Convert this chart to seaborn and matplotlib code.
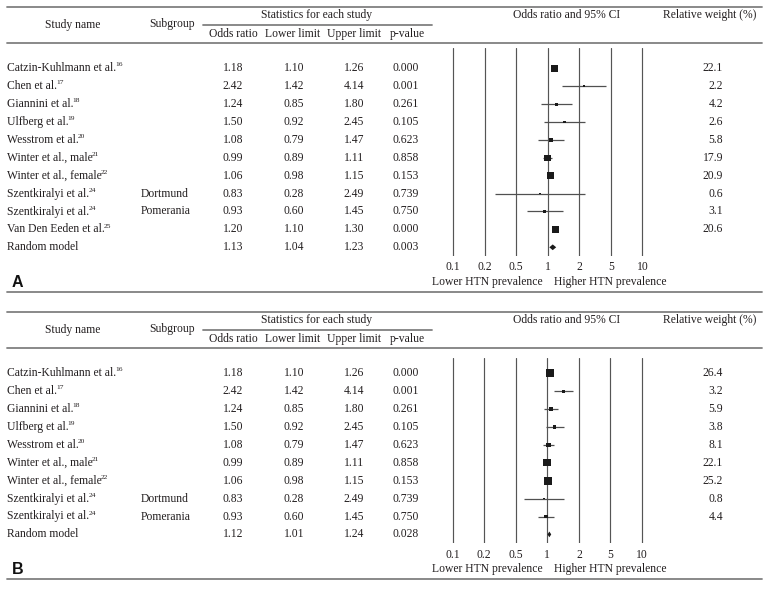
import numpy as np
import pandas as pd
import matplotlib
matplotlib.use("Agg")
import matplotlib.pyplot as plt
import seaborn as sns

sns.set_style("white")
plt.rcParams["font.family"] = ["Liberation Serif", "DejaVu Serif"]

# ---------------- data ----------------
study_names = ["Catzin-Kuhlmann et al.", "Chen et al.", "Giannini et al.", "Ulfberg et al.",
               "Wesstrom et al.", "Winter et al., male", "Winter et al., female",
               "Szentkiralyi et al.", "Szentkiralyi et al.", "Van Den Eeden et al."]
study_refs = ["16", "17", "18", "19", "20", "21", "22", "24", "24", "25"]
subgroups = ["", "", "", "", "", "", "", "Dortmund", "Pomerania", ""]
odds_ratio = [1.18, 2.42, 1.24, 1.50, 1.08, 0.99, 1.06, 0.83, 0.93, 1.20]
lower_limit = [1.10, 1.42, 0.85, 0.92, 0.79, 0.89, 0.98, 0.28, 0.60, 1.10]
upper_limit = [1.26, 4.14, 1.80, 2.45, 1.47, 1.11, 1.15, 2.49, 1.45, 1.30]
p_values = ["0.000", "0.001", "0.261", "0.105", "0.623", "0.858", "0.153", "0.739", "0.750", "0.000"]

weights_A = [22.1, 2.2, 4.2, 2.6, 5.8, 17.9, 20.9, 0.6, 3.1, 20.6]
random_A = (1.13, 1.04, 1.23, "0.003")
n_studies_A = 10

weights_B = [26.4, 3.2, 5.9, 3.8, 8.1, 22.1, 25.2, 0.8, 4.4]
random_B = (1.12, 1.01, 1.24, "0.028")
n_studies_B = 9

tick_labels = ["0.1", "0.2", "0.5", "1", "2", "5", "10"]

# ---------------- layout ----------------
W, H = 766, 589
TXT = "#231f20"
RULE = "#808080"
FS = 8.4

fig = plt.figure(figsize=(W / 100, H / 100), dpi=100)
main = fig.add_axes([0, 0, 1, 1])
main.set_xlim(0, W)
main.set_ylim(H, 0)
main.axis("off")


def px_rect(x0, y0, x1, y1):
    return [x0 / W, 1 - y1 / H, (x1 - x0) / W, (y1 - y0) / H]


def draw_panel(off, label, n, weights, rnd, one_px, dec_per_tick, grid_top, grid_bot_extra):
    sp = 17.9
    first = 68.3 + off
    # rules
    main.plot([7, 762], [7 + off, 7 + off], color=RULE, lw=1.3)
    main.plot([203, 432], [24.5 + off, 24.5 + off], color=RULE, lw=1.3)
    main.plot([7, 762], [43 + off, 43 + off], color=RULE, lw=1.3)
    # headers
    kw = dict(color=TXT, fontsize=FS, va="center", ha="center")
    main.text(73, 25 + off, "Study name", **kw)
    main.text(172, 24 + off, "Subgroup", **kw)
    main.text(317, 15 + off, "Statistics for each study", **kw)
    main.text(233, 34 + off, "Odds ratio", **kw)
    main.text(293, 34 + off, "Lower limit", **kw)
    main.text(354, 34 + off, "Upper limit", **kw)
    main.text(407, 34 + off, "p-value", **kw)
    main.text(567, 15 + off, "Odds ratio and 95% CI", **kw)
    main.text(710, 15 + off, "Relative weight (%)", **kw)

    # table rows
    ors = odds_ratio[:n] + [rnd[0]]
    los = lower_limit[:n] + [rnd[1]]
    his = upper_limit[:n] + [rnd[2]]
    ps = p_values[:n] + [rnd[3]]
    for i in range(n + 1):
        y = first + i * sp
        if i < n:
            t = main.text(7, y, study_names[i], color=TXT, fontsize=FS, va="center", ha="left")
            main.annotate(study_refs[i], xy=(1, 0.78), xycoords=t, xytext=(-0.6, 0),
                          textcoords="offset points", color=TXT, fontsize=5.4,
                          va="center", ha="left")
            main.text(141, y, subgroups[i], color=TXT, fontsize=FS, va="center", ha="left")
            main.text(723, y, f"{weights[i]:.1f}", color=TXT, fontsize=FS, va="center", ha="right")
        else:
            main.text(7, y, "Random model", color=TXT, fontsize=FS, va="center", ha="left")
        main.text(233, y, f"{ors[i]:.2f}", **kw)
        main.text(294, y, f"{los[i]:.2f}", **kw)
        main.text(354, y, f"{his[i]:.2f}", **kw)
        main.text(406, y, ps[i], **kw)

    rnd_y = first + n * sp
    grid_bot = rnd_y + grid_bot_extra
    main.text(542.7, rnd_y + 35, "Lower HTN prevalence", color=TXT, fontsize=FS, va="center", ha="right")
    main.text(554.3, rnd_y + 35, "Higher HTN prevalence", color=TXT, fontsize=FS, va="center", ha="left")
    main.text(12, rnd_y + 35, label, color="#111111", fontsize=11.5, fontweight="bold",
              family="Liberation Sans", va="center", ha="left")
    main.plot([7, 762], [rnd_y + 44.5, rnd_y + 44.5], color=RULE, lw=1.3)

    # forest axes
    x0, x1 = 440, 660
    ax = fig.add_axes(px_rect(x0, grid_top + off, x1, grid_bot))
    ax.set_xscale("log")
    dec_px = 31.55 / dec_per_tick
    ax.set_xlim(10 ** ((x0 - one_px) / dec_px), 10 ** ((x1 - one_px) / dec_px))
    ax.set_ylim((grid_bot - first) / sp, (grid_top + off - first) / sp)
    ticks = [10 ** (k * dec_per_tick) for k in range(-3, 4)]
    for tk in ticks:
        ax.axvline(tk, color="#555555", lw=0.85, zorder=1)
    ax.set_xticks(ticks)
    ax.set_xticklabels(tick_labels)
    ax.xaxis.set_minor_locator(matplotlib.ticker.NullLocator())
    ax.tick_params(axis="x", length=0, pad=4, labelsize=FS, labelcolor=TXT)
    ax.set_yticks([])
    for s in ax.spines.values():
        s.set_visible(False)
    ax.patch.set_alpha(0)

    df = pd.DataFrame({"or": odds_ratio[:n], "lo": lower_limit[:n], "hi": upper_limit[:n],
                       "w": weights, "row": np.arange(n)})
    ax.hlines(df["row"], df["lo"], df["hi"], color="#505050", lw=0.9, zorder=2)
    sns.scatterplot(data=df, x="or", y="row", size="w", sizes=(0, 1.25 * 30), size_norm=(0, 30),
                    marker="s", color="#1a1a1a", linewidth=0, legend=False, ax=ax, zorder=3)
    ax.set_xlabel("")
    ax.set_ylabel("")
    h = 0.16
    ax.fill([rnd[1], rnd[0], rnd[2], rnd[0]], [n, n - h, n, n + h], color="#1a1a1a", lw=0, zorder=3)


draw_panel(0, "A", n_studies_A, weights_A, random_A, 547.7, 1 / 3, 48, 8.5)
draw_panel(305, "B", n_studies_B, weights_B, random_B, 547.3, 0.75, 53, 9)

fig.savefig("out.png", dpi=100)
